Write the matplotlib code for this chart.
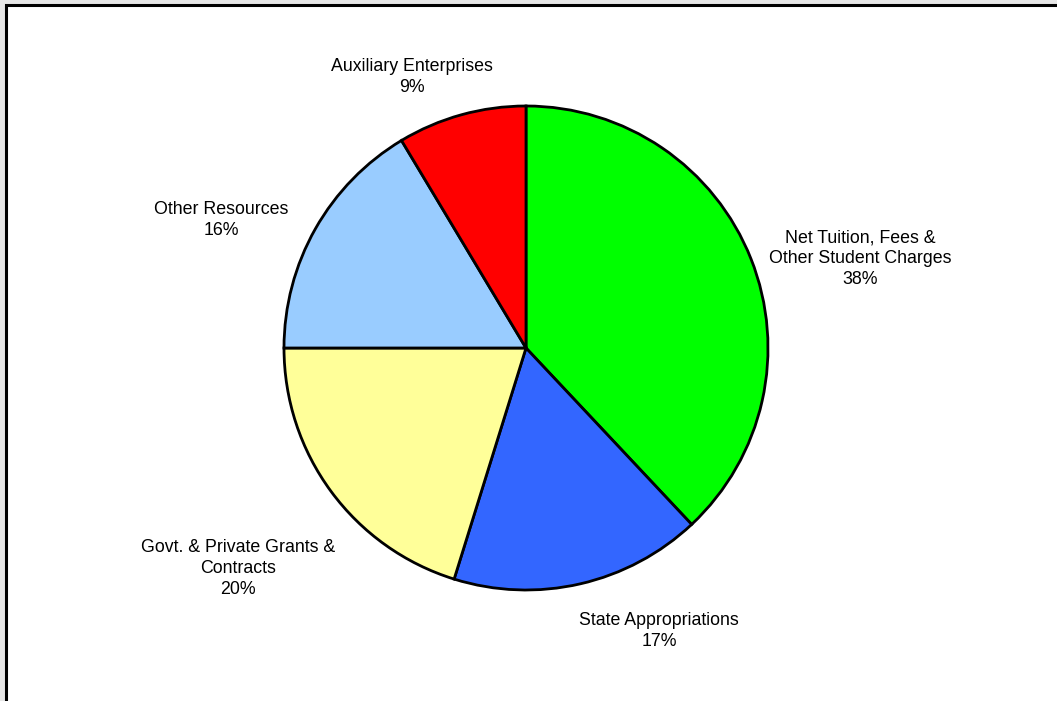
import matplotlib.pyplot as plt
from matplotlib.patches import Rectangle

plt.rcParams["font.family"] = ["Liberation Sans", "DejaVu Sans"]

labels = [
    "Net Tuition, Fees &\nOther Student Charges",
    "State Appropriations",
    "Govt. & Private Grants &\nContracts",
    "Other Resources",
    "Auxiliary Enterprises",
]
shares = [38.0, 16.8, 20.2, 16.4, 8.6]
pct_text = ["38%", "17%", "20%", "16%", "9%"]
colors = ["#00FF00", "#3366FF", "#FFFF99", "#99CCFF", "#FF0000"]

# label centres in pie-radius units (layout only)
label_pos = [(1.38, 0.37), (0.55, -1.17), (-1.19, -0.91), (-1.26, 0.53), (-0.47, 1.12)]

W, H = 1057, 701
fig = plt.figure(figsize=(W / 100, H / 100), dpi=100)
fig.patch.set_facecolor("#e6e6e6")

# white chart area with black frame on top and left
fig.patches.append(Rectangle((6 / W, -0.1), 1.2, 1 - 5 / H + 0.1, transform=fig.transFigure,
                             facecolor="white", edgecolor="black", linewidth=2.2, zorder=-5))

cx, cy, r = 526, 348, 242
ax = fig.add_axes([(cx - r) / W, (H - cy - r) / H, 2 * r / W, 2 * r / H])
ax.set_zorder(2)
ax.pie(shares, colors=colors, startangle=90, counterclock=False, radius=1,
       wedgeprops=dict(edgecolor="black", linewidth=2.0))
ax.set_xlim(-1, 1)
ax.set_ylim(-1, 1)
ax.set_aspect("equal")
ax.axis("off")

for lab, pct, (x, y) in zip(labels, pct_text, label_pos):
    ax.text(x, y, f"{lab}\n{pct}", ha="center", va="center", fontsize=12.8,
            linespacing=1.3, color="black", multialignment="center")

fig.savefig("out.png", dpi=100, facecolor=fig.get_facecolor())
